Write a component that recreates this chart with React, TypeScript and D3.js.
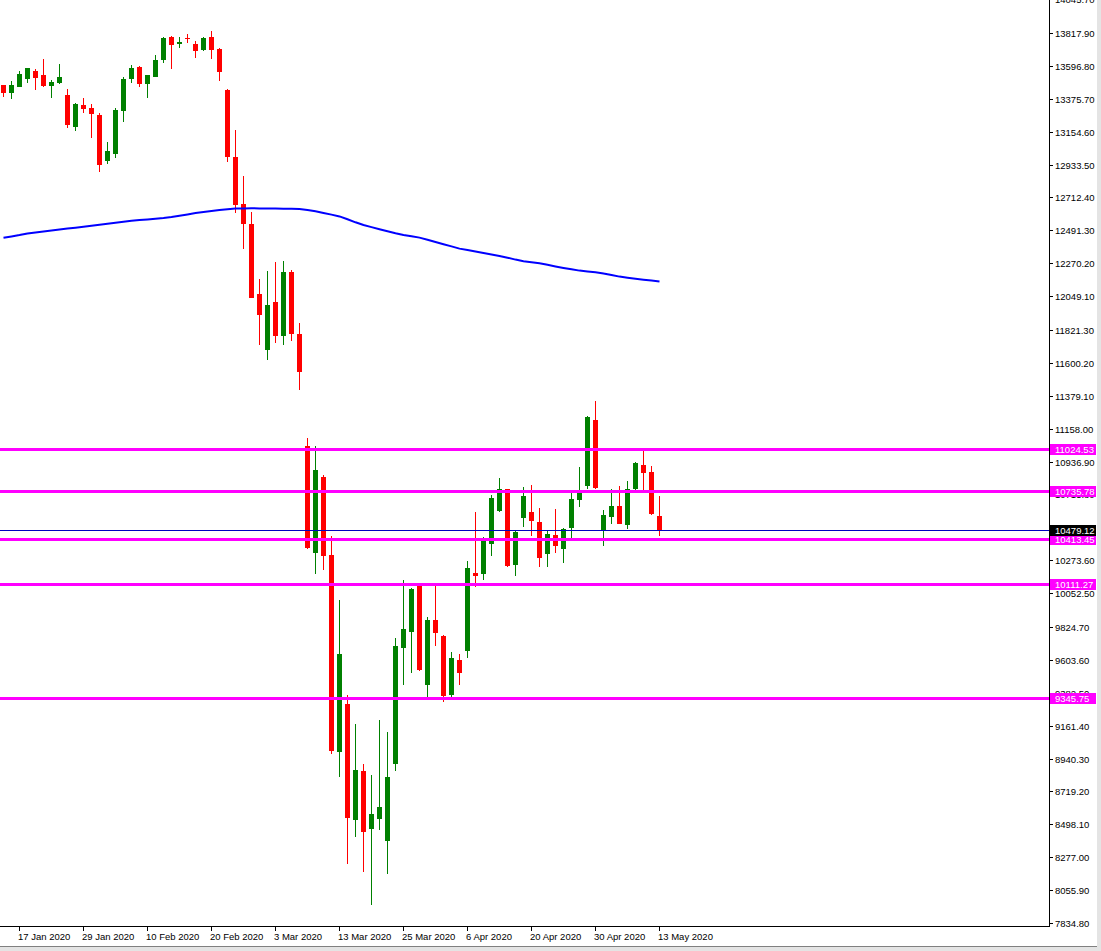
import { line, scaleBand, scaleLinear, timeFormat, timeParse } from "d3";

// DAX daily bars, 15 Jan 2020 .. 13 May 2020
const dates = [
  "2020-01-15", "2020-01-16", "2020-01-17", "2020-01-20", "2020-01-21", "2020-01-22", "2020-01-23", "2020-01-24",
  "2020-01-27", "2020-01-28", "2020-01-29", "2020-01-30", "2020-01-31",
  "2020-02-03", "2020-02-04", "2020-02-05", "2020-02-06", "2020-02-07", "2020-02-10", "2020-02-11", "2020-02-12",
  "2020-02-13", "2020-02-14", "2020-02-17", "2020-02-18", "2020-02-19", "2020-02-20", "2020-02-21", "2020-02-24",
  "2020-02-25", "2020-02-26", "2020-02-27", "2020-02-28",
  "2020-03-02", "2020-03-03", "2020-03-04", "2020-03-05", "2020-03-06", "2020-03-09", "2020-03-10", "2020-03-11",
  "2020-03-12", "2020-03-13", "2020-03-16", "2020-03-17", "2020-03-18", "2020-03-19", "2020-03-20", "2020-03-23",
  "2020-03-24", "2020-03-25", "2020-03-26", "2020-03-27", "2020-03-30", "2020-03-31",
  "2020-04-01", "2020-04-02", "2020-04-03", "2020-04-06", "2020-04-07", "2020-04-08", "2020-04-09", "2020-04-14",
  "2020-04-15", "2020-04-16", "2020-04-17", "2020-04-20", "2020-04-21", "2020-04-22", "2020-04-23", "2020-04-24",
  "2020-04-27", "2020-04-28", "2020-04-29", "2020-04-30",
  "2020-05-04", "2020-05-05", "2020-05-06", "2020-05-07", "2020-05-08", "2020-05-11", "2020-05-12", "2020-05-13",
];

const opens = [
  13468.3, 13416.5, 13456.8, 13510.6, 13562.4, 13535.5, 13463.6, 13481.7, 13401.0, 13187.9, 13333.8, 13313.7, 13266.6,
  12959.4, 13006.4, 13295.5, 13508.6, 13589.3, 13477.0, 13524.1, 13638.4, 13791.0, 13745.9, 13784.2, 13743.9, 13703.6,
  13791.0, 13710.3, 13434.7, 12984.2, 12668.3, 12533.8, 12063.2, 11688.8, 12009.4, 11782.9, 12211.1, 11794.3, 11041.4,
  10324.1, 10833.0, 10308.6, 8986.3, 9306.9, 8529.1, 8856.5, 8468.6, 8535.8, 8387.9, 8905.6, 9685.4, 9793.0, 10106.9,
  9436.7, 9871.6, 9764.1, 9369.4, 9602.7, 9665.2, 10187.6, 10182.9, 10384.6, 10606.4, 10752.3, 10243.4, 10559.4,
  10597.7, 10530.5, 10317.3, 10443.1, 10351.0, 10492.1, 10678.4, 10774.5, 11216.2, 10472.0, 10566.1, 10638.0, 10512.3,
  10752.3, 10913.6, 10866.6, 10570.8,
];
const highs = [
  13470.0, 13495.2, 13562.4, 13582.0, 13575.8, 13643.1, 13499.9, 13609.5, 13441.4, 13347.3, 13380.9, 13340.5, 13278.0,
  13085.1, 13311.6, 13520.0, 13602.7, 13594.0, 13537.0, 13670.0, 13788.9, 13797.7, 13791.0, 13811.1, 13764.1, 13791.0,
  13831.3, 13717.0, 13441.4, 13165.8, 12856.5, 12614.5, 12164.1, 12219.9, 12278.4, 12285.1, 12224.6, 11868.3, 11095.2,
  11041.4, 10846.4, 10436.3, 10006.1, 9367.4, 9172.5, 8903.6, 8829.6, 9199.4, 9118.7, 9750.6, 10140.5, 10085.0, 10110.0,
  9891.8, 10106.9, 9770.8, 9656.5, 9643.1, 10268.3, 10597.7, 10429.6, 10712.0, 10826.3, 10755.0, 10467.9, 10765.8,
  10779.2, 10624.6, 10476.7, 10617.9, 10490.1, 10725.4, 10900.2, 11240.0, 11343.9, 10611.1, 10752.3, 10772.5, 10806.1,
  10933.8, 11021.2, 10906.9, 10705.2,
];
const lows = [
  13385.6, 13376.2, 13455.0, 13483.7, 13436.7, 13456.8, 13382.9, 13477.0, 13181.2, 13161.0, 13282.1, 13114.0, 12885.4,
  12939.2, 12979.5, 13221.6, 13483.7, 13456.8, 13382.9, 13520.0, 13614.2, 13577.9, 13715.0, 13752.6, 13651.8, 13698.9,
  13645.1, 13497.2, 12952.6, 12609.8, 12367.8, 12035.0, 11722.4, 11621.5, 11735.8, 11722.4, 11749.3, 11419.9, 10352.0,
  10182.9, 10209.8, 8972.8, 8818.2, 8233.3, 8414.8, 8179.5, 7957.7, 8461.9, 8166.1, 8858.5, 9436.7, 9517.3, 9530.8,
  9356.0, 9698.9, 9322.4, 9356.0, 9436.7, 9618.2, 10095.5, 10140.5, 10303.9, 10597.7, 10230.0, 10169.4, 10498.9,
  10438.4, 10230.0, 10230.0, 10324.1, 10256.8, 10424.9, 10631.3, 10750.3, 10750.3, 10371.1, 10517.0, 10515.0, 10483.4,
  10745.6, 10745.6, 10577.5, 10438.4,
];
const closes = [
  13416.5, 13468.3, 13542.2, 13580.0, 13517.3, 13463.6, 13488.4, 13522.1, 13201.4, 13340.5, 13308.9, 13275.3, 12932.5,
  13024.6, 13300.2, 13506.6, 13582.6, 13475.0, 13535.5, 13636.3, 13784.2, 13739.2, 13757.4, 13779.5, 13698.9, 13784.2,
  13705.6, 13557.7, 12986.3, 12663.6, 12535.8, 12038.4, 11924.1, 11989.3, 11782.9, 12211.1, 11792.3, 11540.9, 10357.8,
  10880.0, 10303.9, 8993.0, 9643.1, 8542.6, 8863.2, 8448.4, 8567.4, 8614.5, 8816.2, 9696.8, 9811.1, 10080.0, 9537.5,
  9871.6, 9786.2, 9362.7, 9616.2, 9517.3, 10221.2, 10169.4, 10402.7, 10691.8, 10750.3, 10236.7, 10463.2, 10705.2,
  10539.2, 10290.5, 10449.8, 10371.1, 10481.4, 10685.1, 10727.4, 11236.3, 10761.0, 10577.5, 10638.0, 10519.0, 10752.3,
  10927.1, 10859.9, 10584.2, 10479.1,
];

// moving average (blue)
const ma = [
  12441.7, 12450.5, 12459.2, 12469.3, 12477.3, 12483.4, 12490.1, 12496.2, 12502.9, 12508.9, 12515.7, 12522.4, 12529.1,
  12535.2, 12541.9, 12548.6, 12555.3, 12560.0, 12564.7, 12569.4, 12574.2, 12580.9, 12589.6, 12598.4, 12607.8, 12615.2,
  12621.2, 12627.3, 12632.6, 12637.3, 12638.7, 12639.4, 12638.7, 12638.0, 12637.3, 12636.7, 12636.0, 12634.7, 12627.9,
  12619.2, 12607.8, 12597.0, 12584.9, 12565.4, 12545.2, 12527.1, 12513.0, 12498.9, 12485.4, 12472.0, 12460.5, 12451.1,
  12442.4, 12427.6, 12412.8, 12398.0, 12383.2, 12368.4, 12359.0, 12348.9, 12338.9, 12329.4, 12319.4, 12307.3, 12294.5,
  12283.7, 12277.0, 12270.3, 12259.5, 12248.8, 12238.7, 12229.3, 12220.5, 12214.5, 12209.1, 12201.7, 12191.0, 12180.2,
  12172.8, 12166.1, 12159.4, 12153.3, 12146.6,
];

const priceTicks = [
  14045.7, 13817.9, 13596.8, 13375.7, 13154.6, 12933.5, 12712.4, 12491.3, 12270.2, 12049.1, 11821.3, 11600.2, 11379.1,
  11158.0, 10936.9, 10715.8, 10494.7, 10273.6, 10052.5, 9824.7, 9603.6, 9382.5, 9161.4, 8940.3, 8719.2, 8498.1, 8277.0,
  8055.9, 7834.8,
];

const levels = [11024.53, 10735.78, 10413.45, 10111.27, 9345.75];
const lastPrice = 10479.12;

const W = 1101;
const H = 951;
const plotRight = 1049;
const plotBottom = 926;
const font = "'Liberation Sans', Arial, sans-serif";

const parse = timeParse("%Y-%m-%d");
const fmt = timeFormat("%-d %b %Y");

export default function App() {
  const x = scaleBand<string>().domain(dates).range([-0.5, dates.length * 8 - 0.5]).padding(0);
  const y = scaleLinear().domain([7834.8, 14039.7]).range([923, 0]);
  const cx = (d: string) => (x(d) as number) + x.bandwidth() / 2;

  const maLine = line<number>()
    .x((_, i) => cx(dates[i]))
    .y((v) => y(v));

  const dateTicks = dates.filter((_, i) => i % 8 === 2);

  return (
    <svg
      width={W}
      height={H}
      style={{ position: "absolute", left: 0, top: 0, background: "#fff" }}
      fontFamily={font}
    >
      <rect x={0} y={0} width={W} height={H} fill="#fff" />

      {/* candles */}
      <g shapeRendering="crispEdges">
        {dates.map((d, i) => {
          const o = opens[i];
          const c = closes[i];
          const col = c >= o ? "#008000" : "#ff0000";
          const c0 = cx(d);
          const top = y(Math.max(o, c));
          const h = Math.max(1, Math.abs(y(o) - y(c)));
          return (
            <g key={d}>
              <rect x={c0 - 0.5} y={y(highs[i])} width={1} height={y(lows[i]) - y(highs[i])} fill={col} />
              <rect x={c0 - 2.5} y={top} width={5} height={h} fill={col} />
            </g>
          );
        })}
      </g>

      <path d={maLine(ma) ?? ""} fill="none" stroke="#0000ff" strokeWidth={2} />

      {/* horizontal levels */}
      <g shapeRendering="crispEdges">
        {levels.map((v) => (
          <rect key={v} x={0} y={Math.round(y(v)) - 1} width={plotRight} height={3} fill="#ff00ff" />
        ))}
        <rect x={0} y={Math.round(y(lastPrice))} width={plotRight} height={1} fill="#0000c0" />
      </g>

      {/* frame */}
      <g shapeRendering="crispEdges">
        <rect x={plotRight} y={0} width={1} height={plotBottom + 1} fill="#000" />
        <rect x={0} y={plotBottom} width={plotRight + 1} height={1} fill="#000" />
        <rect x={0} y={946} width={W} height={1} fill="#808080" />
        <rect x={0} y={947} width={W} height={4} fill="#e4e4e4" />
        <rect x={1097} y={0} width={4} height={H} fill="#e4e4e4" />
      </g>

      {/* price axis */}
      <g fontSize={9.5} fill="#000">
        {priceTicks.map((v) => (
          <g key={v} transform={`translate(0,${Math.round(y(v))})`}>
            <rect x={plotRight + 1} y={0} width={3} height={1} fill="#000" shapeRendering="crispEdges" />
            <text x={1055} y={0.5} dominantBaseline="central">
              {v.toFixed(2)}
            </text>
          </g>
        ))}
      </g>

      {/* date axis */}
      <g fontSize={9.5} fill="#000">
        {dateTicks.map((d) => (
          <g key={d}>
            <rect x={cx(d) - 0.5} y={plotBottom + 1} width={1} height={4} fill="#000" shapeRendering="crispEdges" />
            <text x={cx(d) - 1.5} y={939.5}>
              {fmt(parse(d) as Date)}
            </text>
          </g>
        ))}
      </g>

      {/* level labels */}
      <g fontSize={9.5}>
        {[...levels.map((v) => ({ v, bg: "#ff00ff" })), { v: lastPrice, bg: "#000" }].map(({ v, bg }) => {
          const yy = Math.round(y(v));
          return (
            <g key={`lbl-${v}`}>
              <rect x={plotRight + 1} y={yy - 5} width={46} height={11} fill={bg} shapeRendering="crispEdges" />
              <text x={1055} y={yy + 0.5} dominantBaseline="central" fill="#fff">
                {v.toFixed(2)}
              </text>
            </g>
          );
        })}
      </g>
    </svg>
  );
}
